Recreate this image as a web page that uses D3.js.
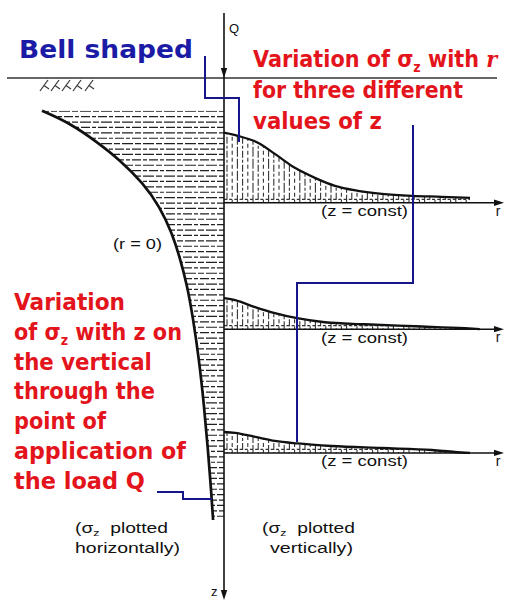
<!DOCTYPE html>
<html><head><meta charset="utf-8">
<script src="https://cdn.jsdelivr.net/npm/d3@7"></script>
<style>html,body{margin:0;padding:0;background:#fff;} svg{display:block}</style>
</head><body>
<svg id="c" width="505" height="601"></svg>
<script>
// ---- data (arbitrary units) ----
// sigma_z on the vertical r = 0, plotted horizontally
const leftZ     = [6.3, 8.7, 12.3, 15.8, 20.2, 24.8, 29.8, 34.6, 39.8, 46.2, 54.2, 62.9, 71.5, 79.2, 85.0];
const leftSigma = [1.0, 0.846, 0.698, 0.571, 0.445, 0.352, 0.286, 0.242, 0.203, 0.170, 0.137, 0.110, 0.088, 0.071, 0.060];
// sigma_z versus r at three depths z, plotted vertically
const profileDepths = [24, 48.3, 72.1];
const profileR = [
  [0, 5, 12.2, 18.3, 25.5, 32.7, 39.9, 48.2, 56.8, 67.6, 78.4, 88.5],
  [0, 4, 11.2, 18.3, 26.3, 36.3, 50.7, 68.7, 86.7, 92],
  [0, 4, 11.2, 18.3, 26.3, 38.8, 56.8, 74.8, 83.1, 88.5]
];
const profileSigma = [
  [0.385, 0.368, 0.330, 0.269, 0.192, 0.137, 0.093, 0.066, 0.049, 0.038, 0.033, 0.027],
  [0.170, 0.159, 0.121, 0.088, 0.060, 0.038, 0.027, 0.016, 0.005, 0],
  [0.115, 0.110, 0.088, 0.066, 0.052, 0.038, 0.027, 0.016, 0.005, 0]
];
// texts
const bellLabel = "Bell shaped";
const rightNoteLines = [["Variation of ", "σ", "z", " with ", "r"], ["for three different"], ["values of z"]];
const leftNoteLines = [["Variation"], ["of ", "σ", "z", " with z on"], ["the vertical"], ["through the"], ["point of"], ["application of"], ["the load Q"]];
const profileLabel = "(z = const)";

// ---- layout ----
const svg = d3.select("#c");
const AX = 224, GROUND = 78;
const x = d3.scaleLinear().domain([0, 100]).range([AX, 502]);   // r
const y = d3.scaleLinear().domain([0, 100]).range([GROUND, 598]); // z
const s = d3.scaleLinear().domain([0, 1]).range([0, 182]);        // sigma magnitude

const defs = svg.append("defs");
const RED = "#e3141b", BLUE = "#1b1ba6", NAVY = "#16168a";

function arrowHead(x0, y0, dir) {
  const p = dir === "right"
    ? [[x0, y0], [x0 - 10, y0 - 3.2], [x0 - 10, y0 + 3.2]]
    : [[x0, y0], [x0 - 3.2, y0 - 10], [x0 + 3.2, y0 - 10]];
  svg.append("path").attr("d", d3.line()(p) + "Z").attr("fill", "#111");
}

// ground line
svg.append("line").attr("x1", 7).attr("x2", 497).attr("y1", GROUND).attr("y2", GROUND)
  .attr("stroke", "#333").attr("stroke-width", 1.6);
// ground hatch marks
[48, 59, 70, 81, 93].forEach(gx => {
  svg.append("line").attr("x1", gx).attr("y1", 80).attr("x2", gx - 8).attr("y2", 91)
    .attr("stroke", "#333").attr("stroke-width", 1.2);
  svg.append("line").attr("x1", gx - 4).attr("y1", 85.5).attr("x2", gx + 1).attr("y2", 89)
    .attr("stroke", "#333").attr("stroke-width", 1.1);
});

// ---- left: sigma_z along r = 0 ----
const leftData = leftZ.map((z, i) => ({z, v: leftSigma[i]}));
const leftArea = d3.area().curve(d3.curveBasis)
  .y(d => y(d.z)).x0(AX).x1(d => AX - s(d.v));
defs.append("clipPath").attr("id", "clipL").append("path").attr("d", leftArea(leftData));
const gL = svg.append("g").attr("clip-path", "url(#clipL)");
d3.range(y(leftZ[0]) + 0.5, y(leftZ[leftZ.length - 1]) + 1, 5.4).forEach((hy, i) => {
  gL.append("line").attr("x1", 30).attr("x2", AX).attr("y1", hy).attr("y2", hy)
    .attr("stroke", "#222").attr("stroke-width", 1.2)
    .attr("stroke-dasharray", i % 2 ? "9,2,4,2" : "6,2,11,2");
});
svg.append("path").attr("d", d3.line().curve(d3.curveBasis).y(d => y(d.z)).x(d => AX - s(d.v))(leftData))
  .attr("fill", "none").attr("stroke", "#111").attr("stroke-width", 2.7);

// ---- right: three profiles ----
const smallFont = "Liberation Sans, Arial, sans-serif";
profileDepths.forEach((zd, k) => {
  const base = y(zd);
  const data = profileR[k].map((r, i) => ({r, v: profileSigma[k][i]}));
  const area = d3.area().curve(d3.curveMonotoneX).x(d => x(d.r)).y0(base).y1(d => base - s(d.v));
  defs.append("clipPath").attr("id", "clipR" + k).append("path").attr("d", area(data));
  const g = svg.append("g").attr("clip-path", `url(#clipR${k})`);
  d3.range(AX + 3, x(profileR[k][profileR[k].length - 1]) + 1, 5.2).forEach((vx, i) => {
    g.append("line").attr("x1", vx).attr("x2", vx).attr("y1", base - 80).attr("y2", base)
      .attr("stroke", "#333").attr("stroke-width", 1.1)
      .attr("stroke-dasharray", i % 3 === 0 ? "7,2,3,2" : (i % 3 === 1 ? "4,3" : "10,2"));
  });
  g.append("line").attr("x1", AX).attr("x2", 500).attr("y1", base - 3.5).attr("y2", base - 3.5)
    .attr("stroke", "#333").attr("stroke-width", 1.3).attr("stroke-dasharray", "3,2.2");
  svg.append("path").attr("d", d3.line().curve(d3.curveMonotoneX).x(d => x(d.r)).y(d => base - s(d.v))(data))
    .attr("fill", "none").attr("stroke", "#111").attr("stroke-width", 2.3);
  svg.append("line").attr("x1", AX).attr("x2", 496).attr("y1", base).attr("y2", base)
    .attr("stroke", "#111").attr("stroke-width", 1.5);
  arrowHead(504, base, "right");
  svg.append("text").attr("x", 498).attr("y", base + 13).attr("text-anchor", "middle")
    .attr("font-family", smallFont).attr("font-size", 14).attr("fill", "#111").text("r");
  svg.append("text").attr("x", 321).attr("y", base + 13.5)
    .attr("font-family", smallFont).attr("font-size", 15).attr("fill", "#111")
    .attr("textLength", 87).attr("lengthAdjust", "spacingAndGlyphs").text(profileLabel);
});

// ---- axes ----
svg.append("line").attr("x1", AX).attr("x2", AX).attr("y1", 13).attr("y2", 592)
  .attr("stroke", "#111").attr("stroke-width", 1.6);
arrowHead(AX, GROUND, "down");
arrowHead(AX, 600, "down");
svg.append("text").attr("x", 229).attr("y", 33).attr("font-family", smallFont).attr("font-size", 13)
  .attr("fill", "#111").text("Q");
svg.append("text").attr("x", 211).attr("y", 596).attr("font-family", smallFont).attr("font-size", 13)
  .attr("fill", "#111").text("z");
svg.append("text").attr("x", 113).attr("y", 249).attr("font-family", smallFont).attr("font-size", 14)
  .attr("fill", "#111").attr("textLength", 49).attr("lengthAdjust", "spacingAndGlyphs").text("(r = 0)");

// scale a text horizontally so its width equals target
function fitWidth(text, x0, y0, target) {
  const g = svg.append("g");
  const t = text(g);
  const w = t.node().getBBox().width;
  g.attr("transform", `translate(${x0},${y0}) scale(${target / w},1)`);
  return t;
}

function plotted(tx, ty, len, line2, tx2, len2) {
  fitWidth(g => {
    const t = g.append("text").attr("font-family", smallFont).attr("font-size", 14).attr("fill", "#111");
    t.append("tspan").text("(σ");
    t.append("tspan").attr("font-size", 9).attr("dy", 3).text("z");
    t.append("tspan").attr("dy", -3).text("\u00a0\u00a0plotted");
    return t;
  }, tx, ty, len);
  svg.append("text").attr("x", tx2).attr("y", ty + 20).attr("font-family", smallFont)
    .attr("font-size", 14).attr("fill", "#111").attr("textLength", len2).attr("lengthAdjust", "spacingAndGlyphs").text(line2);
}
plotted(75, 533, 93, "horizontally)", 75, 105);
plotted(262, 533, 93, "vertically)", 270, 83);

// ---- blue connector lines ----
const conn = [
  [[205, 56], [205, 98], [239, 98], [239, 142]],
  [[413, 125], [413, 283], [297, 283], [297, 442]],
  [[157, 492], [183, 492], [183, 499], [212, 499]]
];
conn.forEach(c => svg.append("path").attr("d", d3.line()(c)).attr("fill", "none")
  .attr("stroke", NAVY).attr("stroke-width", 2));

// ---- annotation text ----
const bigFont = "DejaVu Sans, Verdana, sans-serif";
fitWidth(g => g.append("text").attr("font-family", bigFont).attr("font-weight", "bold")
  .attr("font-size", 24).attr("fill", BLUE).text(bellLabel), 19, 58, 174);

function redLines(lines, x0, y0, dy, widths) {
  lines.forEach((parts, i) => {
    fitWidth(g => {
      const t = g.append("text").attr("font-family", bigFont)
        .attr("font-weight", "bold").attr("font-size", 23).attr("fill", RED);
      if (parts.length === 1) { t.text(parts[0]); return t; }
      parts.forEach((p, j) => {
        const ts = t.append("tspan").text(p.replace(/ /g, "\u00a0"));
        if (j === 2) ts.attr("font-size", 14).attr("dy", 5);
        if (j === 3) ts.attr("dy", -5);
        if (j === 4) ts.attr("font-family", "DejaVu Serif, serif").attr("font-style", "italic");
      });
      return t;
    }, x0, y0 + i * dy, widths[i]);
  });
}
redLines(rightNoteLines, 253, 67, 31, [246, 210, 129]);
redLines(leftNoteLines, 14, 310, 29.8, [111, 168, 138, 141, 93, 173, 131]);
</script>
</body></html>
